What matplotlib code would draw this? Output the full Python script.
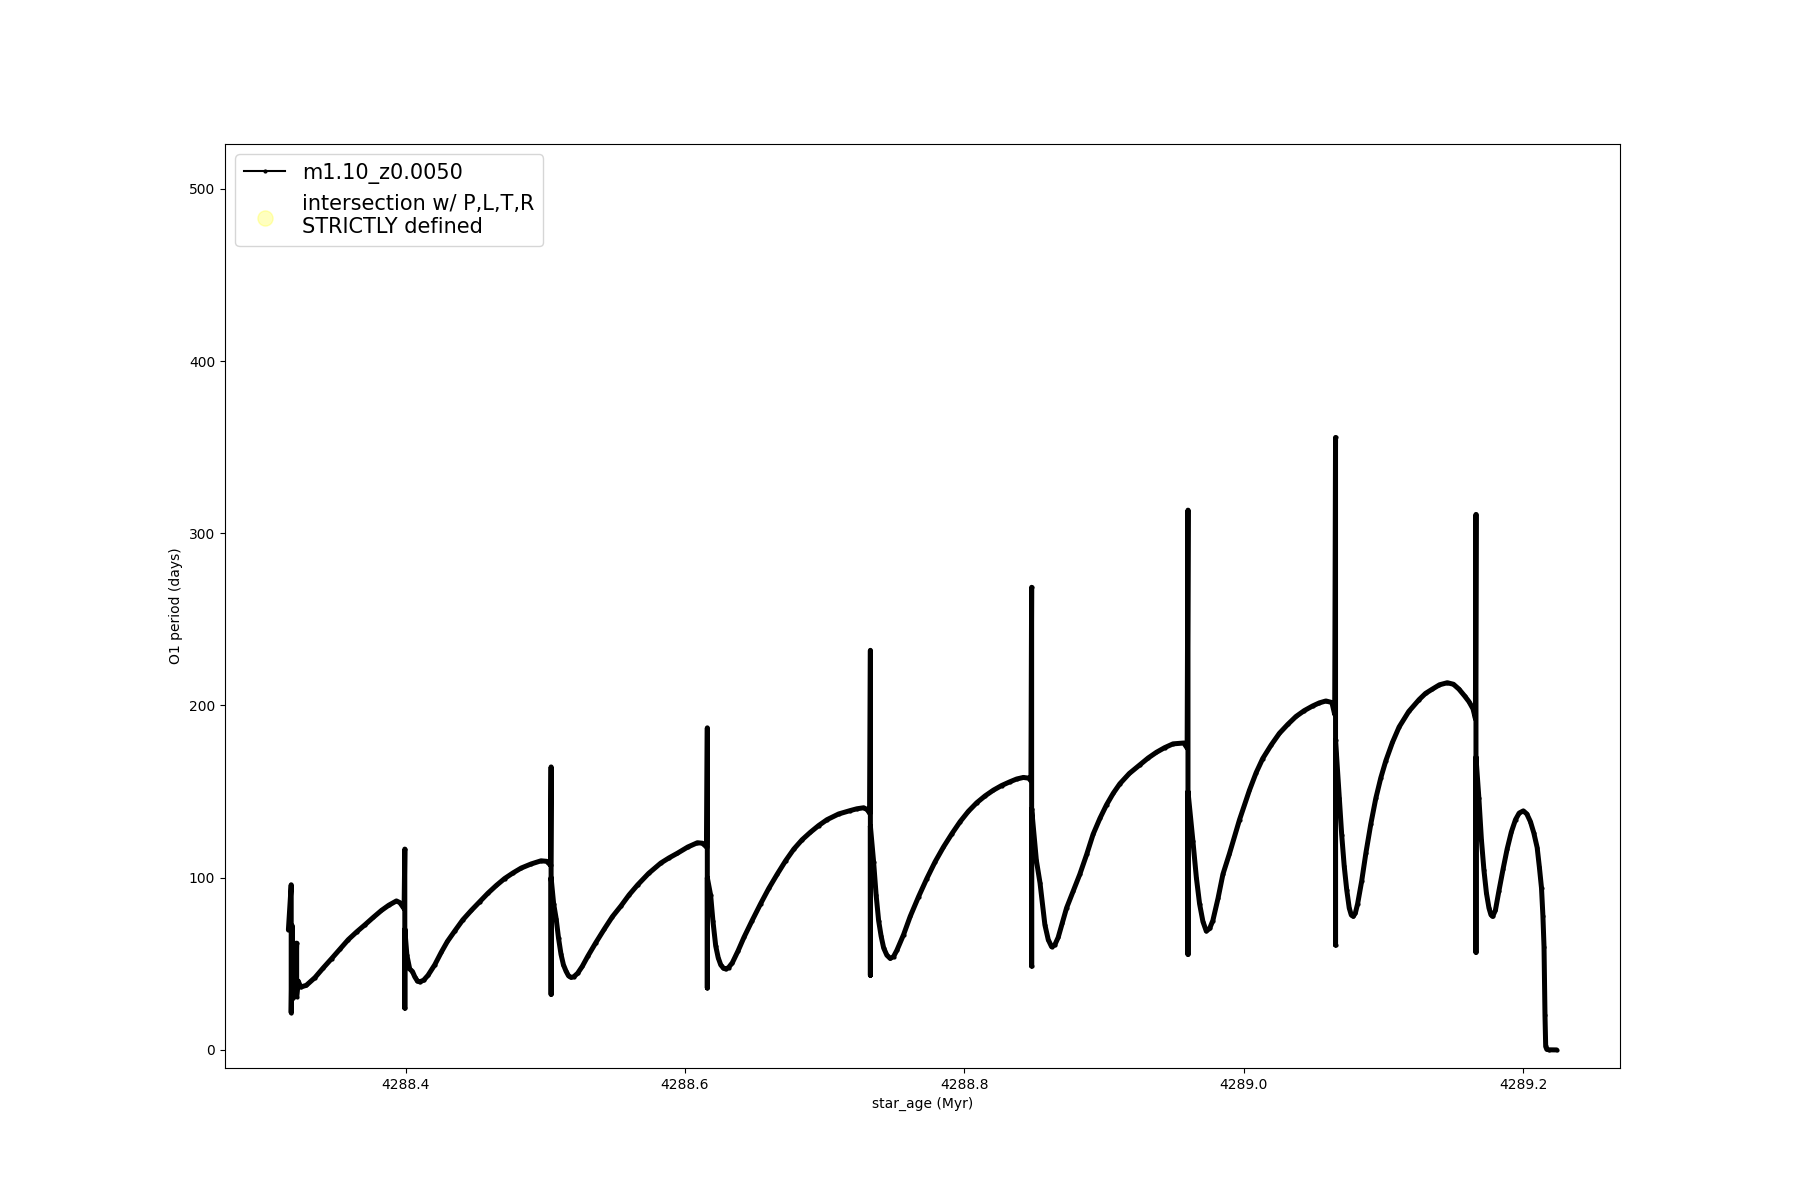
import matplotlib
matplotlib.use('Agg')
import matplotlib.pyplot as plt

# O1 period vs star age
star_age = [
    4288.3162, 4288.3182, 4288.3182, 4288.3190, 4288.3196, 4288.3205, 4288.3212, 4288.3221, 4288.3221,
    4288.3232, 4288.3250, 4288.3290, 4288.3352, 4288.3410, 4288.3471, 4288.3530, 4288.3590, 4288.3650,
    4288.3709, 4288.3770, 4288.3828, 4288.3880, 4288.3935, 4288.3960, 4288.3990,
    4288.3995, 4288.3995, 4288.3995, 4288.4010, 4288.4030, 4288.4050, 4288.4066, 4288.4085, 4288.4102,
    4288.4130, 4288.4161, 4288.4210, 4288.4256, 4288.4300, 4288.4352, 4288.4410, 4288.4471, 4288.4530,
    4288.4590, 4288.4650, 4288.4709, 4288.4770, 4288.4828, 4288.4900, 4288.4970, 4288.5010, 4288.5038,
    4288.5042, 4288.5042, 4288.5042, 4288.5060, 4288.5078, 4288.5095, 4288.5113, 4288.5130, 4288.5149,
    4288.5167, 4288.5185, 4288.5205, 4288.5232, 4288.5265, 4288.5304, 4288.5360, 4288.5423, 4288.5480,
    4288.5542, 4288.5600, 4288.5661, 4288.5740, 4288.5827, 4288.5886, 4288.5946, 4288.6020, 4288.6089,
    4288.6125, 4288.6155,
    4288.6160, 4288.6160, 4288.6160, 4288.6184, 4288.6200, 4288.6220, 4288.6238, 4288.6256, 4288.6275,
    4288.6291, 4288.6312, 4288.6339, 4288.6380, 4288.6422, 4288.6480, 4288.6541, 4288.6600, 4288.6660,
    4288.6720, 4288.6779, 4288.6838, 4288.6898, 4288.6957, 4288.7017, 4288.7100, 4288.7184, 4288.7230,
    4288.7279, 4288.7305, 4288.7322,
    4288.7327, 4288.7327, 4288.7327, 4288.7350, 4288.7368, 4288.7386, 4288.7404, 4288.7422, 4288.7445,
    4288.7469, 4288.7493, 4288.7517, 4288.7565, 4288.7612, 4288.7672, 4288.7731, 4288.7790, 4288.7850,
    4288.7910, 4288.7969, 4288.8028, 4288.8088, 4288.8148, 4288.8207, 4288.8266, 4288.8326, 4288.8374,
    4288.8422, 4288.8460, 4288.8476,
    4288.8481, 4288.8481, 4288.8481, 4288.8515, 4288.8541, 4288.8576, 4288.8600, 4288.8624, 4288.8647,
    4288.8671, 4288.8700, 4288.8731, 4288.8780, 4288.8826, 4288.8875, 4288.8921, 4288.8970, 4288.9017,
    4288.9065, 4288.9112, 4288.9180, 4288.9255, 4288.9315, 4288.9374, 4288.9433, 4288.9493, 4288.9570,
    4288.9594,
    4288.9600, 4288.9600, 4288.9600, 4288.9635, 4288.9660, 4288.9683, 4288.9707, 4288.9731, 4288.9755,
    4288.9778, 4288.9815, 4288.9850, 4288.9897, 4288.9969, 4289.0040, 4289.0088, 4289.0135, 4289.0195,
    4289.0254, 4289.0314, 4289.0373, 4289.0432, 4289.0492, 4289.0540, 4289.0587, 4289.0630, 4289.0650,
    4289.0656, 4289.0656, 4289.0656, 4289.0683, 4289.0700, 4289.0718, 4289.0736, 4289.0754, 4289.0768,
    4289.0783, 4289.0798, 4289.0814, 4289.0843, 4289.0873, 4289.0908, 4289.0944, 4289.0980, 4289.1016,
    4289.1063, 4289.1111, 4289.1180, 4289.1254, 4289.1300, 4289.1349, 4289.1400, 4289.1456, 4289.1500,
    4289.1539, 4289.1580, 4289.1611, 4289.1640, 4289.1657,
    4289.1661, 4289.1661, 4289.1661, 4289.1682, 4289.1700, 4289.1718, 4289.1736, 4289.1754, 4289.1768,
    4289.1780, 4289.1800, 4289.1825, 4289.1855, 4289.1884, 4289.1914, 4289.1944, 4289.1970, 4289.2000,
    4289.2025, 4289.2051, 4289.2075, 4289.2099, 4289.2115, 4289.2130, 4289.2140, 4289.2148, 4289.2155,
    4289.2160, 4289.2168, 4289.2185, 4289.2238,
]
o1_period = [
    69.8, 95.9, 21.6, 72.0, 30.0, 62.0, 33.0, 62.0, 31.0,
    40.0, 36.5, 37.5, 42.0, 47.5, 53.0, 58.5, 64.0, 68.5,
    72.6, 77.0, 81.0, 84.0, 86.5, 85.5, 82.0,
    116.6, 24.3, 70.0, 55.0, 47.0, 45.5, 42.5, 40.0, 39.5,
    40.5, 43.3, 49.5, 56.7, 63.0, 69.0, 75.5, 81.0, 86.0,
    91.0, 95.5, 99.5, 102.8, 105.6, 108.0, 109.8, 109.5, 107.3,
    164.3, 32.3, 100.0, 85.0, 76.3, 65.0, 55.5, 49.5, 45.7,
    43.0, 42.1, 42.5, 44.5, 48.5, 54.3, 62.0, 70.2, 77.3,
    83.6, 90.0, 95.8, 102.5, 108.5, 111.5, 114.2, 117.8, 120.3,
    120.0, 117.8,
    187.0, 36.0, 100.0, 89.7, 75.0, 60.4, 53.5, 49.4, 47.5,
    47.0, 47.8, 50.6, 57.5, 65.3, 75.0, 84.8, 93.8, 102.0,
    109.8, 116.6, 122.0, 126.4, 130.3, 133.7, 137.0, 139.0, 140.0,
    140.6, 139.5, 137.4,
    232.0, 43.3, 130.0, 109.3, 90.0, 75.1, 66.0, 59.2, 55.0,
    53.1, 54.2, 57.9, 67.0, 77.5, 89.0, 99.5, 109.2, 117.8,
    125.5, 132.5, 138.5, 143.5, 147.5, 150.8, 153.5, 155.7, 157.3,
    158.2, 157.8, 156.2,
    268.6, 48.7, 140.0, 110.0, 97.0, 72.6, 64.0, 59.9, 61.0,
    65.3, 73.5, 82.4, 92.5, 102.0, 113.5, 125.2, 134.5, 142.3,
    149.0, 154.5, 160.5, 165.5, 169.5, 172.8, 175.5, 177.7, 178.2,
    175.3,
    313.4, 55.5, 150.0, 121.5, 100.0, 84.8, 74.5, 69.0, 70.5,
    75.1, 88.0, 102.0, 114.0, 133.7, 150.8, 161.0, 169.2, 177.0,
    183.8, 189.0, 193.6, 197.0, 199.7, 201.5, 202.6, 201.7, 194.8,
    355.6, 60.9, 180.0, 146.0, 125.0, 106.8, 93.0, 82.4, 78.5,
    77.5, 79.5, 84.8, 98.0, 114.2, 131.0, 146.0, 158.0, 167.9,
    178.5, 187.5, 196.5, 203.4, 207.0, 209.5, 212.0, 213.2, 212.3,
    209.5, 205.5, 202.2, 198.0, 192.4,
    310.9, 56.7, 170.0, 146.0, 122.0, 104.4, 91.0, 82.4, 78.5,
    77.5, 81.0, 92.2, 105.0, 116.6, 126.5, 133.7, 137.5, 138.8,
    137.0, 132.5, 126.0, 117.5, 106.0, 94.0, 78.0, 60.0, 20.0,
    2.0, 0.3, 0.05, 0.0,
]

# no intersection points fall in this window
intersect_age = []
intersect_period = []

model_label = 'm1.10_z0.0050'
intersect_label = 'intersection w/ P,L,T,R\nSTRICTLY defined'

fig = plt.figure(figsize=(18, 12), dpi=100)
ax = fig.add_subplot(111)

# dense track look: thick stroke underneath, styled line on top for the legend
ax.plot(star_age, o1_period, '-', color='k', lw=3.6, solid_capstyle='round', solid_joinstyle='round')
ax.plot(star_age, o1_period, '.-', color='k', lw=1.5, ms=4, label=model_label)
ax.scatter(intersect_age, intersect_period, s=120, color='yellow', alpha=0.25, label=intersect_label)

ax.set_ylim(-10.5, 526)
ax.ticklabel_format(useOffset=False, axis='x')
ax.set_xlabel('star_age (Myr)')
ax.set_ylabel('O1 period (days)')
ax.legend(loc='upper left', fontsize=15)

plt.savefig('out.png', dpi=100)
